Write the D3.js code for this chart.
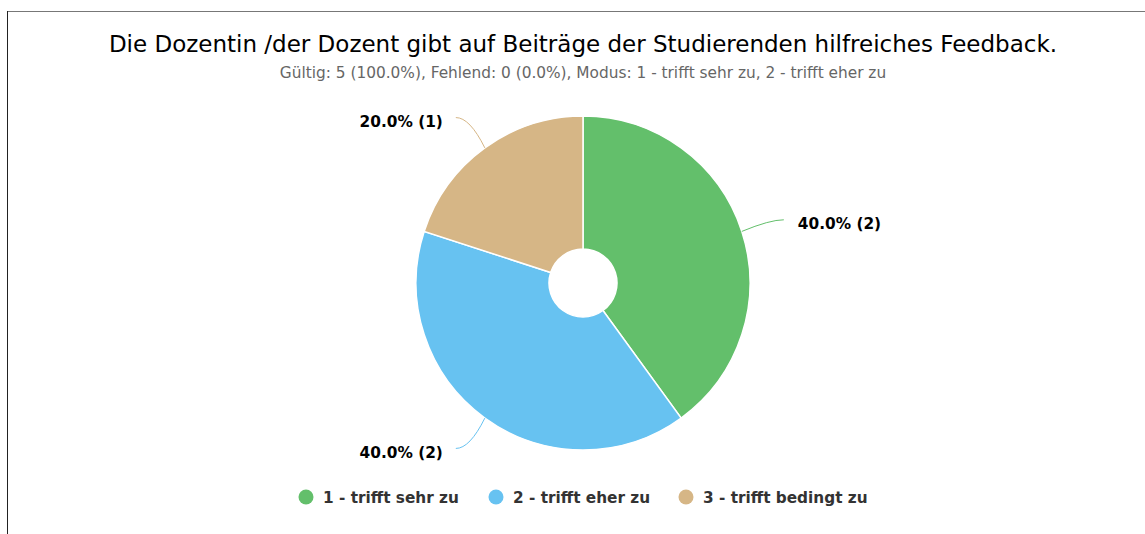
<!DOCTYPE html>
<html>
<head>
<meta charset="utf-8">
<script src="https://cdn.jsdelivr.net/npm/d3@7"></script>
<style>
  body { margin: 0; background: #fff; }
  svg { font-family: "DejaVu Sans", sans-serif; }
  .title { font-size: 23px; fill: #000; text-anchor: middle; }
  .subtitle { font-size: 15.35px; fill: #666; text-anchor: middle; }
  .label { font-size: 15.35px; font-weight: bold; fill: #000; }
  .legend text { font-size: 15.3px; font-weight: bold; fill: #333; }
  .slice { stroke: #fff; stroke-width: 1.5; }
  .connector { fill: none; stroke-width: 1; }
</style>
</head>
<body>
<script>
const titleText = 'Die Dozentin /der Dozent gibt auf Beiträge der Studierenden hilfreiches Feedback.';
const subtitleText = 'Gültig: 5 (100.0%), Fehlend: 0 (0.0%), Modus: 1 - trifft sehr zu, 2 - trifft eher zu';
const categories = ['1 - trifft sehr zu', '2 - trifft eher zu', '3 - trifft bedingt zu'];
const counts = [2, 2, 1];
const colors = ['#63bf6b', '#67c2f1', '#d6b686'];

const config = {
  width: 1145,
  height: 534,
  cx: 583,
  cy: 283,
  outer: 167,
  inner: 34
};

const svg = d3.select('body')
  .append('svg')
  .attr('width', config.width)
  .attr('height', config.height);

// frame
svg.append('path')
  .attr('d', `M7.5,${config.height} V11.5 H${config.width}`)
  .attr('fill', 'none')
  .attr('stroke', '#777')
  .attr('stroke-width', 1);
svg.append('line')
  .attr('x1', 7.5).attr('x2', 7.5)
  .attr('y1', 11).attr('y2', config.height)
  .attr('stroke', '#222');

svg.append('text').attr('class', 'title')
  .attr('x', config.cx).attr('y', 52)
  .text(titleText);

svg.append('text').attr('class', 'subtitle')
  .attr('x', config.cx).attr('y', 78)
  .text(subtitleText);

const total = d3.sum(counts);
const data = categories.map((c, i) => ({ name: c, value: counts[i], color: colors[i] }));

const pie = d3.pie()
  .sort(null)
  .value(d => d.value);

const arc = d3.arc()
  .outerRadius(config.outer)
  .innerRadius(config.inner);

const g = svg.append('g')
  .attr('transform', `translate(${config.cx}, ${config.cy})`);

const arcs = g.selectAll('.arc')
  .data(pie(data))
  .enter()
  .append('g')
  .attr('class', 'arc');

arcs.append('path')
  .attr('class', 'slice')
  .attr('d', arc)
  .attr('fill', d => d.data.color);

// connectors and labels
arcs.each(function(d) {
  const sel = d3.select(this);
  const mid = (d.startAngle + d.endAngle) / 2;
  const sx = Math.sin(mid) * config.outer;
  const sy = -Math.cos(mid) * config.outer;
  const right = Math.sin(mid) >= 0;
  const ey = -Math.cos(mid) * (config.outer + 37.5);
  const ex = right ? sx + 42 : sx - 29;
  const ctrlX = right ? ex - 14 : ex + 14;
  sel.append('path')
    .attr('class', 'connector')
    .attr('d', `M${ex},${ey} Q${ctrlX},${ey} ${sx},${sy}`)
    .attr('stroke', d.data.color);
  const pct = (d.data.value / total * 100).toFixed(1);
  sel.append('text')
    .attr('class', 'label')
    .attr('x', right ? ex + 14 : ex - 13)
    .attr('y', ey + 9.5)
    .attr('text-anchor', right ? 'start' : 'end')
    .text(`${pct}% (${d.data.value})`);
});

// legend
const legendX = [306, 496, 686];
const legend = svg.append('g').attr('class', 'legend');
const items = legend.selectAll('g')
  .data(data)
  .enter()
  .append('g')
  .attr('transform', (d, i) => `translate(${legendX[i]}, 497)`);
items.append('circle')
  .attr('r', 7.5)
  .attr('fill', d => d.color);
items.append('text')
  .attr('x', 17)
  .attr('y', 5.5)
  .text(d => d.name);
</script>
</body>
</html>
